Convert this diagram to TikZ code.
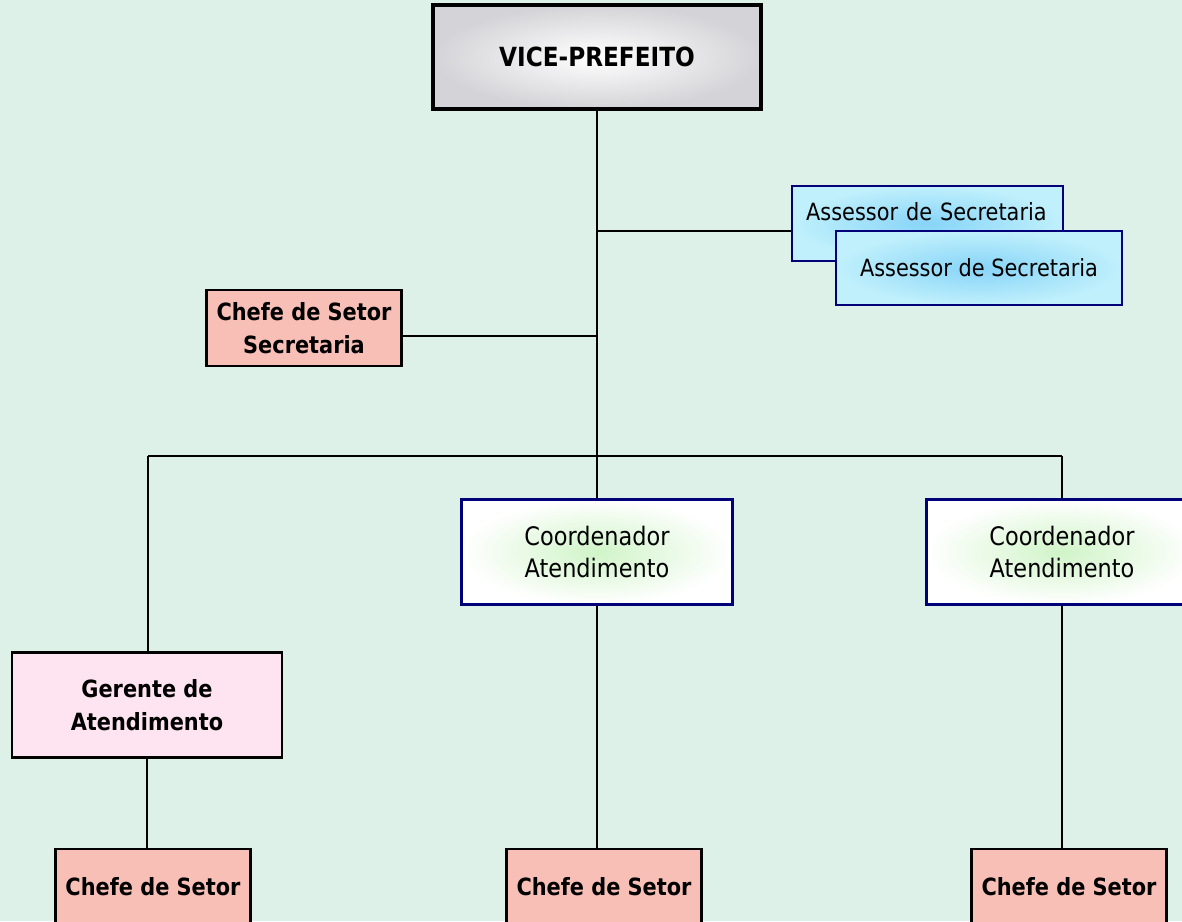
\documentclass[tikz,border=0pt]{standalone}
\usepackage{fontspec}
\setmainfont{DejaVu Sans}[FakeStretch=0.88]
\usepackage{xcolor}
\usepackage{tikz}
\definecolor{bgmint}{RGB}{221, 241, 232}
\definecolor{navyline}{RGB}{0, 0, 120}
\definecolor{salmonfill}{RGB}{248, 191, 182}
\definecolor{pinkfill}{RGB}{253, 228, 240}
\definecolor{cyanedge}{RGB}{192, 240, 252}
\definecolor{cyancore}{RGB}{135, 212, 248}
\definecolor{greencore}{RGB}{208, 244, 200}
\definecolor{marblegray}{RGB}{212, 212, 216}
\newcommand{\orgfont}{\fontsize{13.5}{18.5}\selectfont}

\tikzset{
    orgline/.style={line width=1.3pt, black},
    chefebox/.style={draw=black, line width=1.3pt, fill=salmonfill, align=center,
        minimum width=3.9cm, minimum height=1.52cm, inner sep=0pt, font=\orgfont\bfseries},
    coordbox/.style={draw=navyline, line width=1.3pt, inner color=greencore, outer color=white,
        align=center, minimum width=5.42cm, minimum height=2.1cm, inner sep=0pt,
        font=\fontsize{14.5}{18.5}\selectfont},
    assessorbox/.style={draw=navyline, line width=1.3pt, inner color=cyancore, outer color=cyanedge}
}

\begin{document}
\begin{tikzpicture}[x=0.02cm, y=-0.02cm, font=\orgfont]
    % background and page size
    \fill[bgmint] (0,0) rectangle (1182,921);
    \useasboundingbox (0,0) rectangle (1182,921);

    % top of the chart
    \node[draw=black, line width=2pt, inner color=white, outer color=marblegray,
        minimum width=6.56cm, minimum height=2.08cm, inner sep=0pt,
        font=\fontsize{15}{18}\selectfont\bfseries] (vice) at (597,57) {VICE-PREFEITO};

    % advisers
    \node[assessorbox, anchor=north west, align=left, text width=4.86cm,
        inner xsep=0.28cm, inner ysep=0pt, text height=0.68cm, text depth=0.82cm]
        (ass1) at (791,185) {Assessor de Secretaria};
    \node[assessorbox, align=center, minimum width=5.72cm, minimum height=1.48cm, inner sep=0pt]
        (ass2) at (979,268) {Assessor de Secretaria};

    \node[chefebox] (chefesec) at (304,328) {Chefe de Setor\\Secretaria};

    % second level
    \node[draw=black, line width=1.3pt, fill=pinkfill, align=center,
        minimum width=5.4cm, minimum height=2.1cm, inner sep=0pt, font=\orgfont\bfseries]
        (gerente) at (147,705) {Gerente de\\Atendimento};
    \node[coordbox] (coord1) at (597,552) {Coordenador\\Atendimento};
    \node[coordbox] (coord2) at (1062,552) {Coordenador\\Atendimento};

    % bottom row
    \node[chefebox] (chefe1) at (153,887) {Chefe de Setor};
    \node[chefebox] (chefe2) at (604,887) {Chefe de Setor};
    \node[chefebox] (chefe3) at (1069,887) {Chefe de Setor};

    % connectors
    \coordinate (jass) at (597,231);
    \coordinate (jsec) at (597,336);
    \coordinate (barl) at (148,456);
    \coordinate (barr) at (1062,456);

    \draw[orgline] (vice.south) -- (coord1.north);
    \draw[orgline] (jass) -- (jass -| ass1.west);
    \draw[orgline] (jsec) -- (jsec -| chefesec.east);
    \draw[orgline] (barl) -- (barr);
    \draw[orgline] (barl) -- (barl |- gerente.north);
    \draw[orgline] (barr) -- (barr |- coord2.north);
    \draw[orgline] (gerente.south) -- (gerente.south |- chefe1.north);
    \draw[orgline] (coord1.south) -- (coord1.south |- chefe2.north);
    \draw[orgline] (coord2.south) -- (coord2.south |- chefe3.north);
\end{tikzpicture}
\end{document}
